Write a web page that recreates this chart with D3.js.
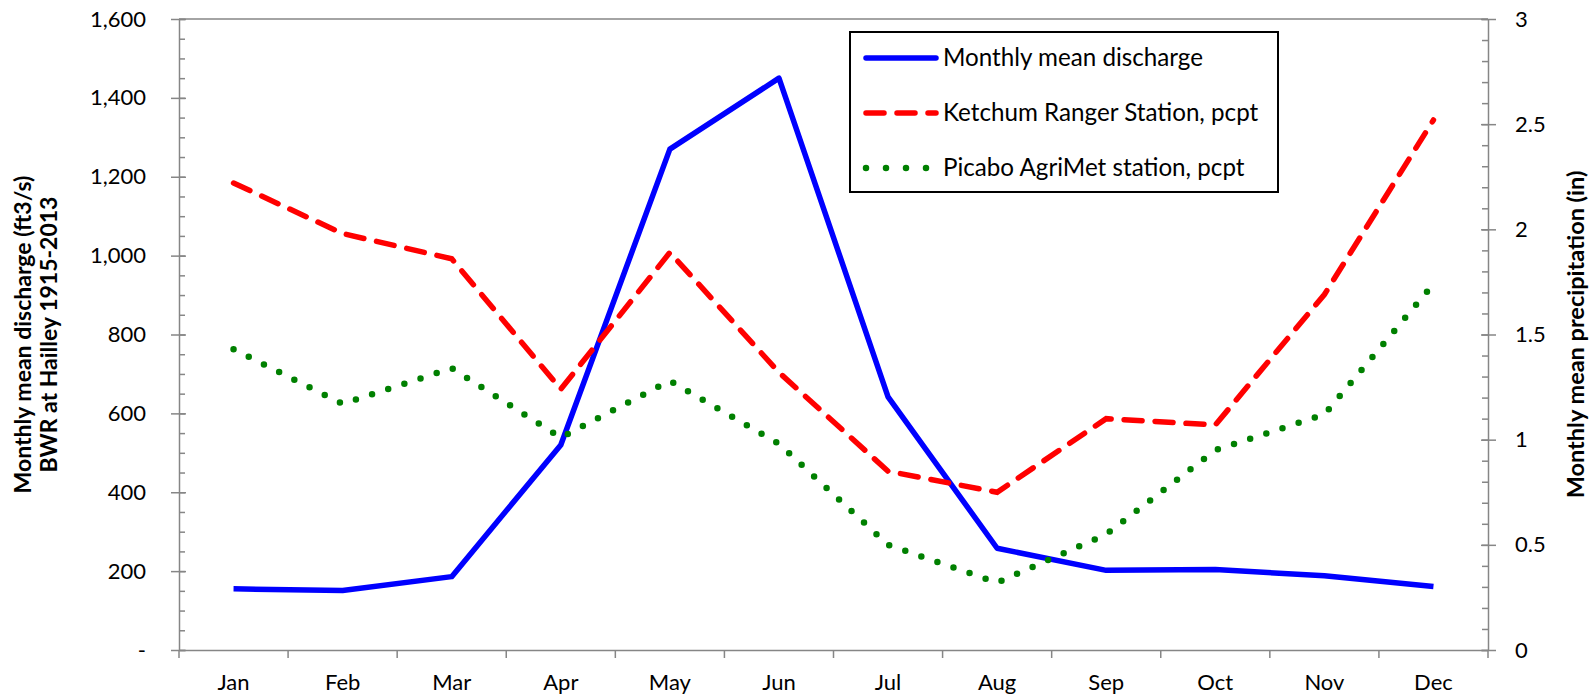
<!DOCTYPE html>
<html>
<head>
<meta charset="utf-8">
<script src="https://cdn.jsdelivr.net/npm/d3@7"></script>
<style>
  body { margin: 0; background: #fff; }
  svg { font-family: Lato, "Open Sans", sans-serif; }
  .axis path, .axis line { stroke: #868686; stroke-width: 1.5; }
  .axis text { fill: #000; font-size: 22px; font-family: Lato, "Open Sans", sans-serif; }
</style>
</head>
<body>
<svg></svg>
<script>
var width = 1593;
var height = 699;

var months = ["Jan", "Feb", "Mar", "Apr", "May", "Jun", "Jul", "Aug", "Sep", "Oct", "Nov", "Dec"];
// cfs, left axis
var discharge = [155, 151, 186, 520, 1270, 1450, 642, 258, 202, 204, 188, 161];
// inches, right axis
var ketchum = [2.22, 1.98, 1.86, 1.24, 1.89, 1.32, 0.85, 0.75, 1.10, 1.07, 1.69, 2.52];
var picabo = [1.43, 1.17, 1.34, 1.01, 1.28, 0.98, 0.50, 0.32, 0.55, 0.95, 1.12, 1.74];

var leftTicks = [0, 200, 400, 600, 800, 1000, 1200, 1400, 1600];
var rightTicks = [0, 0.5, 1, 1.5, 2, 2.5, 3];

var plotL = 179, plotR = 1488, plotT = 19, plotB = 650;

var svg = d3.select("svg")
            .attr("width", width)
            .attr("height", height);

var x = d3.scaleBand()
          .domain(months)
          .range([plotL, plotR]);

var yL = d3.scaleLinear()
           .domain([0, 1600])
           .range([plotB, plotT]);

var yR = d3.scaleLinear()
           .domain([0, 3])
           .range([plotB, plotT]);

var cx = d => x(d) + x.bandwidth() / 2;

// top border of plot area
svg.append("line")
    .attr("x1", plotL).attr("x2", plotR)
    .attr("y1", plotT).attr("y2", plotT)
    .attr("stroke", "#868686")
    .attr("stroke-width", 1.5);

// left axis: minor ticks inside, major ticks crossing
svg.append("g")
    .attr("class", "axis")
    .attr("transform", "translate(" + plotL + ",0)")
    .call(d3.axisLeft(yL).tickValues(d3.range(0, 1601, 50)).tickSize(-6).tickFormat(""))
    .call(g => g.select(".domain").remove());

var gL = svg.append("g")
    .attr("class", "axis")
    .attr("transform", "translate(" + plotL + ",0)")
    .call(d3.axisLeft(yL)
            .tickValues(leftTicks)
            .tickSize(8)
            .tickSizeOuter(0)
            .tickPadding(25)
            .tickFormat(d => d === 0 ? "-" : d3.format(",")(d)));
gL.selectAll(".tick line").attr("x1", 7);

// right axis
svg.append("g")
    .attr("class", "axis")
    .attr("transform", "translate(" + plotR + ",0)")
    .call(d3.axisRight(yR).tickValues(d3.range(0, 31).map(d => d / 10)).tickSize(-6).tickFormat(""))
    .call(g => g.select(".domain").remove());

var gR = svg.append("g")
    .attr("class", "axis")
    .attr("transform", "translate(" + plotR + ",0)")
    .call(d3.axisRight(yR)
            .tickValues(rightTicks)
            .tickSize(8)
            .tickSizeOuter(0)
            .tickPadding(19)
            .tickFormat(d => String(d)));
gR.selectAll(".tick line").attr("x1", -7);

// bottom axis, ticks between categories
var gB = svg.append("g")
    .attr("class", "axis")
    .attr("transform", "translate(0," + plotB + ")")
    .call(d3.axisBottom(x).tickSize(0).tickSizeOuter(0).tickPadding(22));
gB.selectAll(".tick text").attr("dy", "0.8em");
gB.selectAll(".edge")
    .data(months.map(d => x(d)).concat([plotR]))
    .enter()
    .append("line")
      .attr("x1", d => d).attr("x2", d => d)
      .attr("y1", 0).attr("y2", 8);

// series
var lineL = d3.line()
              .x((d, i) => cx(months[i]))
              .y(d => yL(d));
var lineR = d3.line()
              .x((d, i) => cx(months[i]))
              .y(d => yR(d));

svg.append("path")
    .datum(discharge)
    .attr("d", lineL)
    .attr("fill", "none")
    .attr("stroke", "#0000ff")
    .attr("stroke-width", 5.5)
    .attr("stroke-linejoin", "round");

svg.append("path")
    .datum(ketchum)
    .attr("d", lineR)
    .attr("fill", "none")
    .attr("stroke", "#ff0000")
    .attr("stroke-width", 5.5)
    .attr("stroke-linecap", "round")
    .attr("stroke-dasharray", "18 13");

svg.append("path")
    .datum(picabo)
    .attr("d", lineR)
    .attr("fill", "none")
    .attr("stroke", "#008000")
    .attr("stroke-width", 6.5)
    .attr("stroke-linecap", "round")
    .attr("stroke-dasharray", "0 17");

// axis titles
svg.append("text")
    .attr("transform", "translate(31," + ((plotT + plotB) / 2) + ") rotate(-90)")
    .attr("text-anchor", "middle")
    .attr("font-weight", "bold")
    .attr("font-size", "23px")
    .text("Monthly mean discharge (ft3/s)");

svg.append("text")
    .attr("transform", "translate(57," + ((plotT + plotB) / 2) + ") rotate(-90)")
    .attr("text-anchor", "middle")
    .attr("font-weight", "bold")
    .attr("font-size", "23px")
    .text("BWR at Hailley 1915-2013");

svg.append("text")
    .attr("transform", "translate(1584," + ((plotT + plotB) / 2) + ") rotate(-90)")
    .attr("text-anchor", "middle")
    .attr("font-weight", "bold")
    .attr("font-size", "23.5px")
    .text("Monthly mean precipitation (in)");

// legend
var legendItems = [
  { name: "Monthly mean discharge", color: "#0000ff", dash: null, w: 5.5 },
  { name: "Ketchum Ranger Station, pcpt", color: "#ff0000", dash: "18 13", w: 5.5 },
  { name: "Picabo AgriMet station, pcpt", color: "#008000", dash: "0 20", w: 6.5 }
];

var legend = svg.append("g");
legend.append("rect")
    .attr("x", 850).attr("y", 32)
    .attr("width", 428).attr("height", 160)
    .attr("fill", "#fff")
    .attr("stroke", "#000")
    .attr("stroke-width", 2);

var li = legend.selectAll(".li")
    .data(legendItems)
    .enter()
    .append("g")
      .attr("transform", (d, i) => "translate(0," + (58 + i * 55) + ")");

li.append("line")
    .attr("x1", 866).attr("x2", 936)
    .attr("stroke", d => d.color)
    .attr("stroke-width", d => d.w)
    .attr("stroke-linecap", "round")
    .attr("stroke-dasharray", d => d.dash);

li.append("text")
    .attr("x", 943)
    .attr("dy", "0.35em")
    .attr("font-size", "24.2px")
    .text(d => d.name);
</script>
</body>
</html>
